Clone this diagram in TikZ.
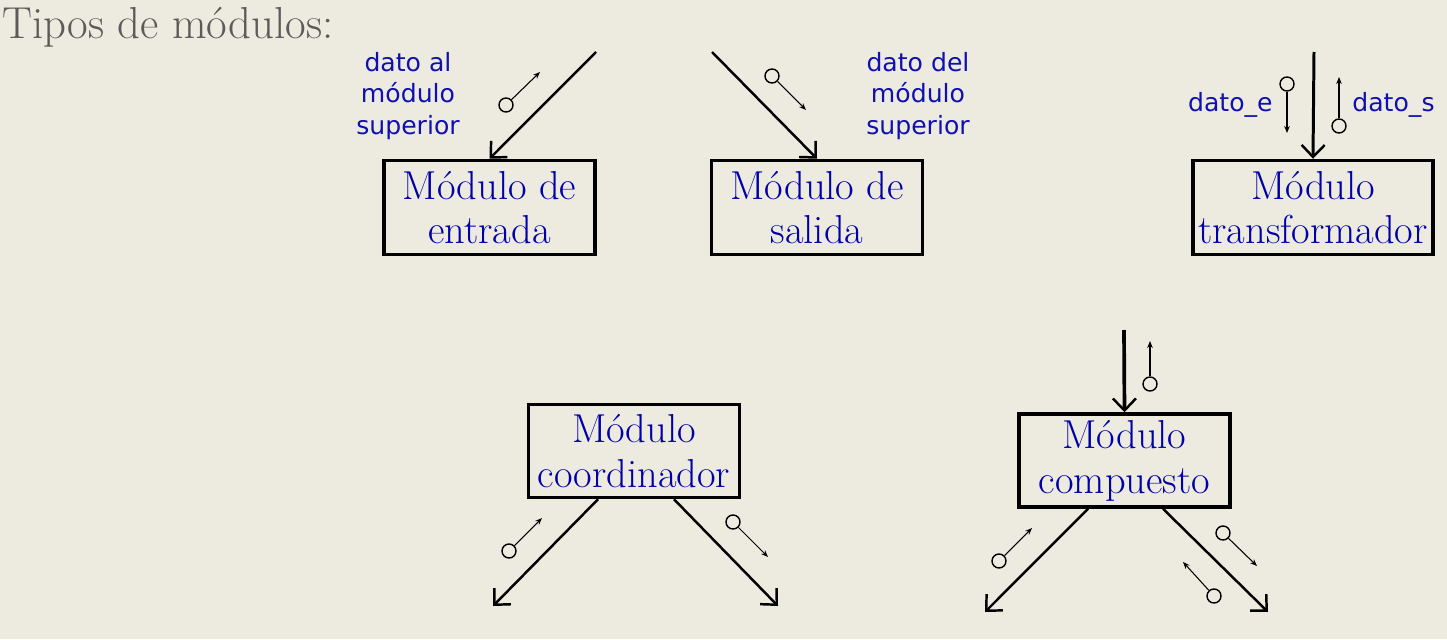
\documentclass[tikz,border=0pt]{standalone}
\usepackage{fontspec}
\newfontfamily\etiquetafont{DejaVu Sans}
\usetikzlibrary{arrows.meta,shadows}
\definecolor{fondo}{HTML}{EDEAE0}
\definecolor{azul}{HTML}{0000A8}
\definecolor{azuletiqueta}{HTML}{1010B0}
\definecolor{gristitulo}{HTML}{5E5A58}
\tikzset{
  modulo/.style={draw, line width=2pt, fill=fondo, minimum width=4.22cm, minimum height=1.88cm,
    inner sep=0pt, align=center, text=azul, font=\fontsize{23}{25.5}\selectfont,
    drop shadow={opacity=0.25, shadow xshift=0.6pt, shadow yshift=-0.6pt}},
  etiqueta/.style={inner sep=0pt, align=center, text=azuletiqueta, font=\etiquetafont\fontsize{14.3}{18}\selectfont},
  flujo/.style={line width=1.4pt, -{Straight Barb[length=2.4mm,width=4.6mm,line width=1.4pt]}},
  flujogrueso/.style={flujo, line width=2.1pt},
  dato/.style={circle, draw, line width=0.8pt, minimum size=0.28cm, inner sep=0pt},
  param/.style={line width=0.6pt, -{Stealth[length=1.4mm,width=1.1mm]}}
}
\begin{document}
\begin{tikzpicture}[x=0.02cm,y=-0.02cm]
\fill[fondo] (0,0) rectangle (1447,639);
\useasboundingbox (0,0) rectangle (1447,639);
\node[anchor=base west, inner sep=0pt, text=gristitulo, font=\fontsize{25.5}{30}\selectfont] (titulo) at (2,38) {Tipos de módulos:};

% modulos
\node[modulo] (entrada) at (489.5,207.5) {Módulo de\\entrada};
\node[modulo] (salida) at (817,207.5) {Módulo de\\salida};
\node[modulo, minimum width=4.8cm] (transformador) at (1313,207.5) {Módulo\\transformador};
\node[modulo, minimum height=1.86cm] (coordinador) at (634,451) {Módulo\\coordinador};
\node[modulo, minimum height=1.86cm] (compuesto) at (1124.5,460.5) {Módulo\\compuesto};

% modulo de entrada
\coordinate (e-in) at (596,52);
\draw[flujo] (e-in) -- (entrada.north);
\node[dato] (e-dato) at (506,105) {};
\coordinate (e-fin) at (540,72);
\draw[param] (e-dato) -- (e-fin);
\node[etiqueta] (e-lbl) at (408,96) {dato al\\módulo\\superior};

% modulo de salida
\coordinate (s-in) at (712,52);
\draw[flujo] (s-in) -- (salida.north);
\node[dato] (s-dato) at (772,76) {};
\coordinate (s-fin) at (806,110);
\draw[param] (s-dato) -- (s-fin);
\node[etiqueta] (s-lbl) at (918,96) {dato del\\módulo\\superior};

% modulo transformador
\coordinate (t-in) at (1314,52);
\draw[flujo, line width=1.7pt] (t-in) -- (transformador.north);
\node[dato] (t-dato-e) at (1287,84) {};
\coordinate (t-fin-e) at (1287,133);
\draw[param] (t-dato-e) -- (t-fin-e);
\node[dato] (t-dato-s) at (1339,126) {};
\coordinate (t-fin-s) at (1339,77);
\draw[param] (t-dato-s) -- (t-fin-s);
\node[etiqueta, anchor=east] (t-lbl-e) at (1273,105) {dato\_e};
\node[etiqueta, anchor=west] (t-lbl-s) at (1352,105) {dato\_s};

% modulo coordinador
\coordinate (c-izq) at (493,606);
\coordinate (c-der) at (778,606);
\draw[flujo] ([xshift=-0.72cm]coordinador.south) -- (c-izq);
\draw[flujo] ([xshift=0.8cm]coordinador.south) -- (c-der);
\node[dato] (c-dato-i) at (509,551) {};
\coordinate (c-fin-i) at (542,518);
\draw[param] (c-dato-i) -- (c-fin-i);
\node[dato] (c-dato-d) at (733,522) {};
\coordinate (c-fin-d) at (768,557);
\draw[param] (c-dato-d) -- (c-fin-d);

% modulo compuesto
\coordinate (m-in) at (1124,330);
\draw[flujogrueso] (m-in) -- (compuesto.north);
\node[dato] (m-dato-a) at (1150,384) {};
\coordinate (m-fin-a) at (1150,341);
\draw[param] (m-dato-a) -- (m-fin-a);
\coordinate (m-izq) at (985,612);
\coordinate (m-der) at (1268,612);
\draw[flujo] ([xshift=-0.73cm]compuesto.south) -- (m-izq);
\draw[flujo] ([xshift=0.77cm]compuesto.south) -- (m-der);
\node[dato] (m-dato-i) at (999,561) {};
\coordinate (m-fin-i) at (1032,528);
\draw[param] (m-dato-i) -- (m-fin-i);
\node[dato] (m-dato-d) at (1223,533) {};
\coordinate (m-fin-d) at (1257,566);
\draw[param] (m-dato-d) -- (m-fin-d);
\node[dato] (m-dato-r) at (1214,596) {};
\coordinate (m-fin-r) at (1183,562);
\draw[param] (m-dato-r) -- (m-fin-r);
\end{tikzpicture}
\end{document}
